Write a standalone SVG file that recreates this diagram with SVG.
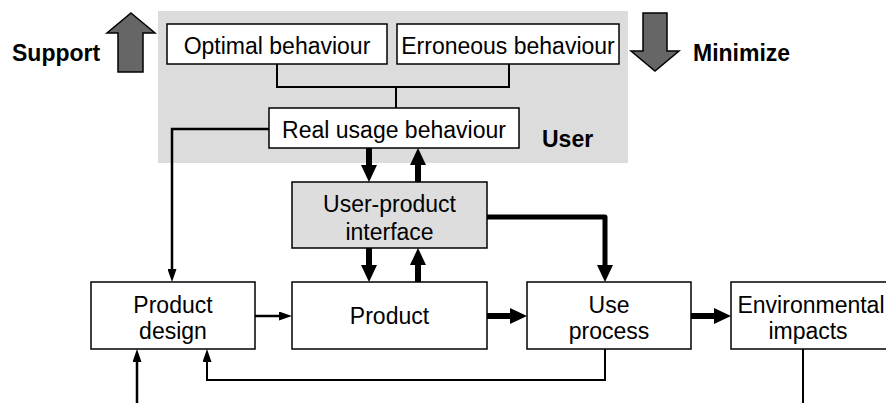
<svg xmlns="http://www.w3.org/2000/svg" width="886" height="403" viewBox="0 0 886 403">
<style>
  .box{fill:#fff;stroke:#000;stroke-width:1.5}
  .gbox{fill:#dddddd;stroke:#000;stroke-width:1.5}
  .t{font-family:"Liberation Sans",Arial,sans-serif;font-size:23px;fill:#000;text-anchor:middle}
  .b{font-family:"Liberation Sans",Arial,sans-serif;font-size:23px;font-weight:bold;fill:#000}
  .thin{fill:none;stroke:#000;stroke-width:2}
  .med{fill:none;stroke:#000;stroke-width:2.5}
  .thick{fill:none;stroke:#000;stroke-width:6}
  .big{fill:#666;stroke:#000;stroke-width:1.5;stroke-linejoin:miter}
</style>
<defs>
  <marker id="ah" markerUnits="userSpaceOnUse" markerWidth="17" markerHeight="16" refX="2" refY="8" orient="auto">
    <path d="M0,0 L17,8 L0,16 z" fill="#000"/>
  </marker>
  <marker id="as" markerUnits="userSpaceOnUse" markerWidth="13" markerHeight="9" refX="2" refY="4.5" orient="auto">
    <path d="M0,0 L13,4.5 L0,9 z" fill="#000"/>
  </marker>
</defs>

<rect id="user-area" x="158" y="11" width="470" height="152" fill="#dcdcdc"/>

<g id="support">
  <polygon class="big" points="131,13 155,33 143,33 143,72 118,72 118,33 107,33"/>
  <text class="b" x="12" y="61">Support</text>
</g>
<g id="minimize">
  <polygon class="big" points="643,13 667,13 667,51 679,51 655,71 631,51 643,51"/>
  <text class="b" x="693" y="61">Minimize</text>
</g>
<text id="user-label" class="b" x="542" y="147">User</text>

<g id="connectors">
  <polyline class="thin" points="277,64 277,87 509,87 509,64"/>
  <line class="thin" x1="396" y1="87" x2="396" y2="108"/>
  <polyline class="med" points="269,129 172,129 172,271" marker-end="url(#as)"/>
  <line class="thick" x1="369" y1="148" x2="369" y2="167" marker-end="url(#ah)"/>
  <line class="thick" x1="418" y1="182" x2="418" y2="163" marker-end="url(#ah)"/>
  <line class="thick" x1="369" y1="248" x2="369" y2="267" marker-end="url(#ah)"/>
  <line class="thick" x1="418" y1="282" x2="418" y2="263" marker-end="url(#ah)"/>
  <line class="med" x1="255" y1="316" x2="281" y2="316" marker-end="url(#as)"/>
  <line class="thick" x1="487" y1="316" x2="512" y2="316" marker-end="url(#ah)"/>
  <line class="thick" x1="691" y1="316" x2="716" y2="316" marker-end="url(#ah)"/>
  <polyline points="487,217 605,217 605,267" fill="none" stroke="#000" stroke-width="5" stroke-linecap="round" stroke-linejoin="round" marker-end="url(#ah)"/>
  <polyline class="thin" points="605,349 605,380 207,380 207,360" marker-end="url(#as)"/>
  <line class="med" x1="137" y1="403" x2="137" y2="360" marker-end="url(#as)"/>
  <line class="thin" x1="803" y1="349" x2="803" y2="403"/>
</g>

<g id="optimal">
  <rect class="box" x="167" y="24" width="220" height="40"/>
  <text class="t" x="277" y="54">Optimal behaviour</text>
</g>
<g id="erroneous">
  <rect class="box" x="397" y="24" width="222" height="40"/>
  <text class="t" x="508" y="54">Erroneous behaviour</text>
</g>
<g id="real-usage">
  <rect class="box" x="269" y="108" width="250" height="40"/>
  <text class="t" x="394" y="138">Real usage behaviour</text>
</g>
<g id="interface">
  <rect class="gbox" x="292" y="182" width="195" height="66"/>
  <text class="t" x="389.5" y="212">User-product</text>
  <text class="t" x="389.5" y="240">interface</text>
</g>
<g id="product-design">
  <rect class="box" x="91" y="282" width="164" height="67"/>
  <text class="t" x="173" y="313">Product</text>
  <text class="t" x="173" y="339">design</text>
</g>
<g id="product">
  <rect class="box" x="292" y="282" width="195" height="67"/>
  <text class="t" x="389.5" y="324">Product</text>
</g>
<g id="use-process">
  <rect class="box" x="527" y="282" width="164" height="67"/>
  <text class="t" x="609" y="313">Use</text>
  <text class="t" x="609" y="339">process</text>
</g>
<g id="environmental">
  <rect class="box" x="731" y="282" width="164" height="67"/>
  <text class="t" x="811" y="313">Environmental</text>
  <text class="t" x="808" y="339">impacts</text>
</g>
</svg>
